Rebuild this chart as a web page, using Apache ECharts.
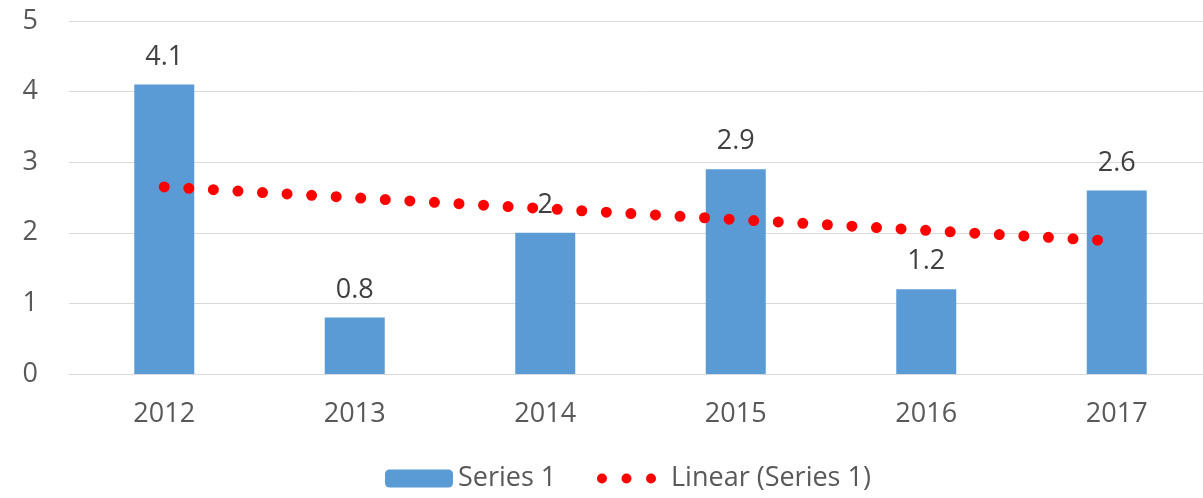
<!DOCTYPE html>
<html>
<head>
<meta charset="utf-8">
<script src="https://cdn.jsdelivr.net/npm/echarts@6/dist/echarts.min.js"></script>
<style>
  html, body { margin: 0; padding: 0; background: #fff; overflow: hidden; }
  /* plot area runs past the right edge of the window, as in the original */
  #chart { width: 1212px; height: 498px; }
</style>
</head>
<body>
<div id="chart"></div>
<script>
// values
const years = ['2012', '2013', '2014', '2015', '2016', '2017']
const series1 = [4.1, 0.8, 2, 2.9, 1.2, 2.6]
// linear trendline endpoints (first and last category)
const trendStart = 2.65
const trendEnd = 1.88
const yTicks = [0, 1, 2, 3, 4, 5]

const font = '"Open Sans", "Noto Sans", sans-serif'
const red = '#FF0000'
// three round dots for the trendline legend icon
const dotsIcon = 'path://M0,5a5,5 0 1,0 10,0a5,5 0 1,0 -10,0z' +
  'M24.6,5a5,5 0 1,0 10,0a5,5 0 1,0 -10,0z' +
  'M49.2,5a5,5 0 1,0 10,0a5,5 0 1,0 -10,0z'

const chart = echarts.init(document.getElementById('chart'))

const legendText = { fontFamily: font, fontSize: 27, color: '#595959' }

chart.setOption({
  animation: false,
  textStyle: { fontFamily: font },
  grid: {
    left: 69,
    right: 0,
    top: 21,
    bottom: 124
  },
  legend: [
    {
      left: 380,
      top: 460,
      itemWidth: 68,
      itemHeight: 18,
      textStyle: legendText,
      data: ['Series 1']
    },
    {
      left: 592,
      top: 460,
      itemWidth: 59,
      itemHeight: 10,
      textStyle: Object.assign({ padding: [0, 0, 0, 10] }, legendText),
      data: [{ name: 'Linear (Series 1)', icon: dotsIcon, itemStyle: { color: red } }]
    }
  ],
  xAxis: {
    type: 'category',
    data: years,
    axisTick: { show: false },
    axisLine: { lineStyle: { color: '#D9D9D9', width: 1 } },
    axisLabel: { color: '#595959', fontSize: 27, margin: 27, fontFamily: font }
  },
  yAxis: {
    type: 'value',
    min: yTicks[0],
    max: yTicks[yTicks.length - 1],
    interval: 1,
    axisLine: { show: false },
    axisTick: { show: false },
    splitLine: { lineStyle: { color: '#D9D9D9', width: 1 } },
    axisLabel: { color: '#595959', fontSize: 27, margin: 31, fontFamily: font }
  },
  series: [
    {
      name: 'Series 1',
      type: 'bar',
      data: series1,
      barWidth: 60,
      itemStyle: { color: '#5B9BD5' },
      label: {
        show: true,
        position: 'top',
        distance: 14,
        color: '#404040',
        fontSize: 27,
        fontFamily: font
      }
    },
    {
      name: 'Linear (Series 1)',
      type: 'line',
      data: [[years[0], trendStart], [years[years.length - 1], trendEnd]],
      showSymbol: false,
      symbol: 'none',
      z: 3,
      itemStyle: { color: red },
      lineStyle: {
        color: red,
        width: 11,
        type: [0, 24.6],
        cap: 'round'
      }
    }
  ]
})
</script>
</body>
</html>
